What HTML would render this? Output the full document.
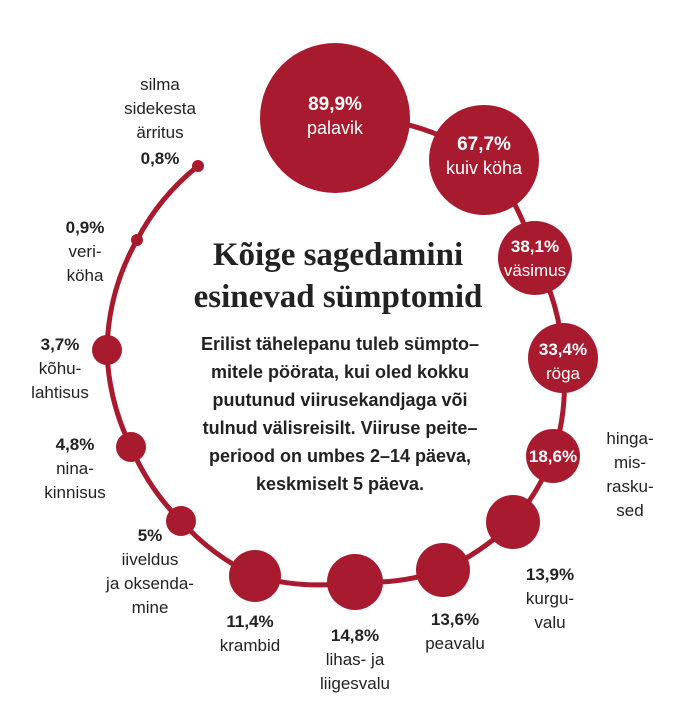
<!DOCTYPE html>
<html><head><meta charset="utf-8"><style>
html,body{margin:0;padding:0;background:#fff;}
svg{display:block;}
text{font-family:"Liberation Sans","DejaVu Sans",sans-serif;}
.l{font-size:17px;fill:#222;text-anchor:middle;}
.b{font-weight:bold;}
.w{fill:#fff;text-anchor:middle;font-size:17px;}
</style></head><body>
<svg width="685" height="705" viewBox="0 0 685 705">
<g fill="none" stroke="#a81b2e" stroke-width="5">
<path d="M335 118 A232 232 0 0 1 484 160 A232 232 0 0 1 535 258 A232 232 0 0 1 563 358 A232 232 0 0 1 553 456 A232 232 0 0 1 513 522 A232 232 0 0 1 443 570 A232 232 0 0 1 355 582 A232 232 0 0 1 255 576 A232 232 0 0 1 181 521 A232 232 0 0 1 131 447 A232 232 0 0 1 107 350 A232 232 0 0 1 137 240 A232 232 0 0 1 198 166"/>
</g>
<g fill="#a81b2e">
<circle cx="335" cy="118" r="75"/>
<circle cx="484" cy="160" r="55"/>
<circle cx="535" cy="258" r="37"/>
<circle cx="563" cy="358" r="35"/>
<circle cx="553" cy="456" r="27"/>
<circle cx="513" cy="522" r="27"/>
<circle cx="443" cy="570" r="27"/>
<circle cx="355" cy="582" r="28"/>
<circle cx="255" cy="576" r="26"/>
<circle cx="181" cy="521" r="15"/>
<circle cx="131" cy="447" r="15"/>
<circle cx="107" cy="350" r="15"/>
<circle cx="137" cy="240" r="6"/>
<circle cx="198" cy="166" r="6"/>
</g>
<text class="w b" x="335" y="110" style="font-size:19px">89,9%</text>
<text class="w" x="335" y="134" style="font-size:18px">palavik</text>
<text class="w b" x="484" y="150" style="font-size:19px">67,7%</text>
<text class="w" x="484" y="174" style="font-size:18px">kuiv köha</text>
<text class="w b" x="535" y="252">38,1%</text>
<text class="w" x="535" y="276">väsimus</text>
<text class="w b" x="563" y="355">33,4%</text>
<text class="w" x="563" y="379">röga</text>
<text class="w b" x="553" y="462">18,6%</text>

<text class="l" x="160" y="90">silma</text>
<text class="l" x="160" y="114">sidekesta</text>
<text class="l" x="160" y="138">ärritus</text>
<text class="l b" x="160" y="164">0,8%</text>
<text class="l b" x="85" y="233">0,9%</text>
<text class="l" x="85" y="257">veri-</text>
<text class="l" x="85" y="281">köha</text>
<text class="l b" x="60" y="350">3,7%</text>
<text class="l" x="60" y="374">kõhu-</text>
<text class="l" x="60" y="398">lahtisus</text>
<text class="l b" x="75" y="450">4,8%</text>
<text class="l" x="75" y="474">nina-</text>
<text class="l" x="75" y="498">kinnisus</text>
<text class="l b" x="150" y="541">5%</text>
<text class="l" x="150" y="565">iiveldus</text>
<text class="l" x="150" y="589">ja oksenda-</text>
<text class="l" x="150" y="613">mine</text>
<text class="l b" x="250" y="627">11,4%</text>
<text class="l" x="250" y="651">krambid</text>
<text class="l b" x="355" y="641">14,8%</text>
<text class="l" x="355" y="665">lihas- ja</text>
<text class="l" x="355" y="689">liigesvalu</text>
<text class="l b" x="455" y="625">13,6%</text>
<text class="l" x="455" y="649">peavalu</text>
<text class="l b" x="550" y="580">13,9%</text>
<text class="l" x="550" y="604">kurgu-</text>
<text class="l" x="550" y="628">valu</text>
<text class="l" x="630" y="444">hinga-</text>
<text class="l" x="630" y="468">mis-</text>
<text class="l" x="630" y="492">rasku-</text>
<text class="l" x="630" y="516">sed</text>

<text x="338" y="265" text-anchor="middle" style="font-family:'Liberation Serif',serif;font-weight:bold;font-size:33px;fill:#222">Kõige sagedamini</text>
<text x="338" y="307" text-anchor="middle" style="font-family:'Liberation Serif',serif;font-weight:bold;font-size:33px;fill:#222">esinevad sümptomid</text>
<g style="font-size:18px;font-weight:bold;fill:#222" text-anchor="middle">
<text x="340" y="350">Erilist tähelepanu tuleb sümpto–</text>
<text x="340" y="378">mitele pöörata, kui oled kokku</text>
<text x="340" y="406">puutunud viirusekandjaga või</text>
<text x="340" y="434">tulnud välisreisilt. Viiruse peite–</text>
<text x="340" y="462">periood on umbes 2–14 päeva,</text>
<text x="340" y="490">keskmiselt 5 päeva.</text>
</g>
</svg>
</body></html>
